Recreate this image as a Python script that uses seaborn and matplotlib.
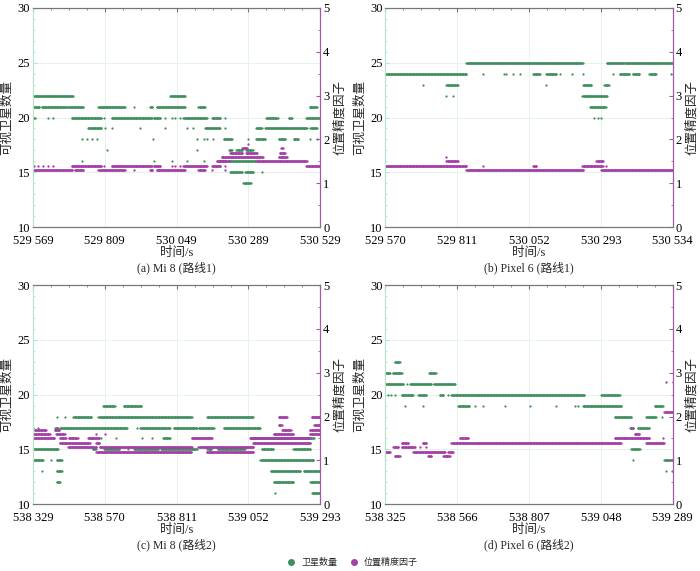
import numpy as np
import pandas as pd
import matplotlib
matplotlib.use("Agg")
import matplotlib.pyplot as plt
from matplotlib.lines import Line2D
from matplotlib.ticker import FuncFormatter, MultipleLocator, AutoMinorLocator
import seaborn as sns

# runs: (start offset s, end offset s, value)
# satellite counts (left axis) and PDOP (right axis), one list per panel
sat_runs_a = [
    (3, 133, 22), (458, 508, 22),
    (0, 23, 21), (29, 113, 21), (118, 168, 21), (219, 308, 21), (338, 338, 21), (391, 400, 21),
    (414, 508, 21), (553, 575, 21), (924, 949, 21),
    (0, 7, 20), (51, 51, 20), (68, 68, 20), (129, 230, 20), (238, 238, 20), (263, 397, 20),
    (403, 425, 20), (441, 441, 20), (464, 464, 20), (475, 475, 20), (490, 490, 20), (503, 581, 20),
    (598, 626, 20), (642, 642, 20), (779, 817, 20), (855, 865, 20), (913, 960, 20),
    (185, 230, 19), (241, 241, 19), (263, 263, 19), (358, 358, 19), (441, 441, 19), (514, 514, 19),
    (536, 536, 19), (575, 626, 19), (642, 642, 19), (746, 765, 19), (776, 915, 19), (927, 949, 19),
    (163, 163, 18), (180, 180, 18), (196, 196, 18), (213, 213, 18), (400, 400, 18), (547, 547, 18),
    (570, 570, 18), (581, 581, 18), (601, 601, 18), (637, 665, 18), (717, 717, 18), (746, 776, 18),
    (821, 843, 18), (871, 888, 18), (927, 927, 18), (949, 949, 18),
    (246, 246, 17), (547, 547, 17), (655, 665, 17), (680, 700, 17), (712, 735, 17),
    (163, 163, 16), (403, 403, 16), (465, 465, 16), (515, 515, 16), (570, 570, 16), (620, 640, 16),
    (657, 748, 16),
    (659, 700, 15), (710, 737, 15), (765, 765, 15),
    (703, 728, 14),
]
pdop_runs_a = [
    (0, 133, 1.3), (140, 168, 1.3), (219, 308, 1.3), (338, 338, 1.3), (391, 400, 1.3),
    (414, 508, 1.3), (553, 575, 1.3), (598, 598, 1.3), (642, 642, 1.3),
    (3, 3, 1.4), (17, 17, 1.4), (34, 34, 1.4), (51, 51, 1.4), (68, 68, 1.4), (129, 230, 1.4),
    (238, 238, 1.4), (263, 397, 1.4), (403, 425, 1.4), (464, 464, 1.4), (475, 475, 1.4),
    (490, 490, 1.4), (503, 581, 1.4), (598, 626, 1.4), (642, 642, 1.4), (913, 960, 1.4),
    (614, 657, 1.5), (748, 915, 1.5),
    (630, 768, 1.6), (821, 849, 1.6),
    (658, 700, 1.7), (712, 748, 1.7), (824, 843, 1.7),
    (700, 715, 1.8), (830, 835, 1.8),
    (717, 717, 1.9),
]

sat_runs_b = [
    (272, 663, 25), (743, 797, 25), (802, 964, 25),
    (0, 272, 24), (328, 328, 24), (397, 397, 24), (406, 406, 24), (429, 429, 24), (451, 451, 24),
    (496, 518, 24), (540, 574, 24), (585, 585, 24), (626, 626, 24), (663, 663, 24), (763, 763, 24),
    (786, 819, 24), (830, 853, 24), (886, 908, 24), (958, 958, 24),
    (127, 127, 23), (205, 244, 23), (540, 540, 23), (663, 691, 23), (735, 750, 23),
    (205, 205, 22), (228, 228, 22), (661, 743, 22),
    (687, 739, 21),
    (699, 699, 20), (712, 712, 20), (725, 725, 20),
]
pdop_runs_b = [
    (205, 205, 1.6),
    (205, 244, 1.5), (708, 730, 1.5),
    (0, 272, 1.4), (328, 328, 1.4), (496, 507, 1.4), (661, 730, 1.4), (739, 739, 1.4),
    (272, 665, 1.3), (724, 964, 1.3),
]

sat_runs_c = [
    (236, 275, 19), (304, 365, 19),
    (80, 80, 18), (108, 108, 18), (136, 197, 18), (220, 533, 18), (584, 738, 18),
    (2, 2, 17), (17, 17, 17), (74, 85, 17), (91, 315, 17), (349, 349, 17), (360, 460, 17),
    (472, 550, 17), (556, 606, 17), (640, 763, 17),
    (195, 195, 16), (230, 230, 16), (280, 280, 16), (365, 365, 16), (400, 400, 16),
    (437, 460, 16), (730, 942, 16),
    (0, 85, 15), (200, 210, 15), (240, 290, 15), (320, 320, 15), (340, 420, 15), (430, 550, 15),
    (585, 600, 15), (620, 710, 15), (768, 807, 15), (874, 930, 15),
    (0, 35, 14), (60, 60, 14), (80, 96, 14), (763, 942, 14),
    (29, 29, 13), (80, 96, 13), (797, 897, 13), (908, 964, 13),
    (80, 90, 12), (808, 875, 12), (931, 964, 12),
    (813, 813, 11), (936, 964, 11),
]
pdop_runs_c = [
    (824, 852, 2.0), (935, 964, 2.0),
    (824, 835, 1.8), (943, 964, 1.8),
    (6, 45, 1.7), (73, 90, 1.7), (836, 864, 1.7), (929, 964, 1.7),
    (0, 56, 1.6), (78, 106, 1.6), (213, 213, 1.6), (241, 241, 1.6), (807, 874, 1.6), (929, 964, 1.6),
    (0, 73, 1.5), (90, 110, 1.5), (120, 150, 1.5), (185, 224, 1.5), (532, 600, 1.5), (729, 930, 1.5),
    (90, 190, 1.4), (213, 224, 1.4), (738, 930, 1.4),
    (118, 213, 1.3), (224, 532, 1.3), (555, 740, 1.3),
    (213, 532, 1.2), (583, 740, 1.2),
]

sat_runs_d = [
    (32, 49, 23),
    (0, 16, 22), (25, 55, 22), (147, 170, 22),
    (0, 60, 21), (74, 74, 21), (83, 155, 21), (163, 233, 21),
    (10, 10, 20), (20, 20, 20), (32, 32, 20), (55, 94, 20), (111, 138, 20), (183, 195, 20),
    (211, 211, 20), (222, 668, 20), (724, 786, 20),
    (66, 66, 19), (127, 127, 19), (244, 283, 19), (300, 300, 19), (328, 328, 19), (401, 401, 19),
    (485, 485, 19), (574, 574, 19), (636, 636, 19), (647, 647, 19), (663, 791, 19), (903, 931, 19),
    (769, 825, 18), (875, 908, 18), (929, 929, 18),
    (821, 832, 17), (847, 886, 17),
    (825, 853, 15),
    (830, 830, 14), (936, 964, 14),
    (940, 940, 13), (962, 962, 13),
]
pdop_runs_d = [
    (940, 940, 2.8), (964, 964, 2.8),
    (936, 964, 2.1),
    (825, 825, 1.75), (830, 830, 1.75),
    (836, 853, 1.6),
    (250, 278, 1.5), (769, 886, 1.5), (931, 931, 1.5),
    (55, 77, 1.4), (125, 138, 1.4), (222, 791, 1.4), (875, 936, 1.4),
    (27, 43, 1.3), (55, 99, 1.3), (116, 116, 1.3), (138, 138, 1.3),
    (0, 16, 1.2), (94, 200, 1.2), (211, 228, 1.2),
    (32, 49, 1.1), (144, 155, 1.1), (194, 216, 1.1),
]

start_times = [529569, 529570, 538329, 538325]
xticks_a = [529569, 529809, 530049, 530289, 530529]
xticks_b = [529570, 529811, 530052, 530293, 530534]
xticks_c = [538329, 538570, 538811, 539052, 539293]
xticks_d = [538325, 538566, 538807, 539048, 539289]
captions = ["(a) Mi 8 (路线1)", "(b) Pixel 6 (路线1)", "(c) Mi 8 (路线2)", "(d) Pixel 6 (路线2)"]
legend_labels = ["卫星数量", "位置精度因子"]

GREEN = "#3f8f5c"
PURPLE = "#a33fa6"
PALE = "#b9e2cb"


def runs_to_df(runs, t0):
    # one sample every 2 s along each run
    rows = []
    for s, e, v in runs:
        for t in np.arange(s, e + 1, 2):
            rows.append((t0 + t, v))
    return pd.DataFrame(rows, columns=["time", "value"])


sns.set_style("white")
plt.rcParams["font.family"] = ["Liberation Serif", "Noto Sans CJK SC"]
plt.rcParams["font.size"] = 9

fig, axes = plt.subplots(2, 2, figsize=(7, 5.71), dpi=100)
fig.subplots_adjust(left=0.047, right=0.961, top=0.986, bottom=0.117, wspace=0.226, hspace=0.265)

panels = [
    (sat_runs_a, pdop_runs_a, xticks_a),
    (sat_runs_b, pdop_runs_b, xticks_b),
    (sat_runs_c, pdop_runs_c, xticks_c),
    (sat_runs_d, pdop_runs_d, xticks_d),
]
fmt = FuncFormatter(lambda v, p: f"{int(round(v)):,}".replace(",", " "))

for ax, (sat_runs, pdop_runs, xt), t0, cap in zip(axes.flat, panels, start_times, captions):
    ax2 = ax.twinx()
    sat_df = runs_to_df(sat_runs, t0)
    pdop_df = runs_to_df(pdop_runs, t0)
    sns.scatterplot(data=sat_df, x="time", y="value", color=GREEN, s=2.6, linewidth=0,
                    marker="o", legend=False, ax=ax)
    sns.scatterplot(data=pdop_df, x="time", y="value", color=PURPLE, s=2.8, linewidth=0,
                    marker="o", legend=False, ax=ax2)

    ax.set_xlim(xt[0], xt[-1])
    ax.set_ylim(10, 30)
    ax2.set_ylim(0, 5)
    ax.set_xticks(xt)
    ax.xaxis.set_major_formatter(fmt)
    ax.xaxis.set_minor_locator(AutoMinorLocator(4))
    ax.yaxis.set_major_locator(MultipleLocator(5))
    ax.yaxis.set_minor_locator(MultipleLocator(1))
    ax2.yaxis.set_major_locator(MultipleLocator(1))
    ax2.yaxis.set_minor_locator(MultipleLocator(0.5))

    ax.grid(True, which="major", color="#e6f2ea", lw=0.7)
    ax.set_axisbelow(True)

    ax.set_xlabel("时间/s", labelpad=0)
    ax.set_ylabel("可视卫星数量", labelpad=3)
    ax2.set_ylabel("位置精度因子", labelpad=3)
    ax.text(0.5, -0.188, cap, transform=ax.transAxes, ha="center", va="center", fontsize=8.5)

    for a in (ax, ax2):
        a.spines["left"].set_color(PALE)
        a.spines["right"].set_color("#a35aa6")
        a.spines["top"].set_color("#777777")
        a.spines["bottom"].set_color("#777777")
        for s in a.spines.values():
            s.set_linewidth(0.8)
    ax.tick_params(axis="x", which="both", direction="in", top=True, colors="#777777",
                   labelcolor="black", labelsize=9, pad=5.5)
    ax.tick_params(axis="x", which="major", length=3)
    ax.tick_params(axis="x", which="minor", length=1.5)
    ax.tick_params(axis="y", which="both", direction="in", colors=PALE, labelcolor="black",
                   labelsize=9, pad=2)
    ax.tick_params(axis="y", which="major", length=3)
    ax.tick_params(axis="y", which="minor", length=1.5)
    ax2.tick_params(axis="y", which="both", direction="in", colors="#a35aa6", labelcolor="black",
                    labelsize=9, pad=2)
    ax2.tick_params(axis="y", which="major", length=3)
    ax2.tick_params(axis="y", which="minor", length=1.5)

handles = [
    Line2D([], [], marker="o", ls="", color=GREEN, markersize=4),
    Line2D([], [], marker="o", ls="", color=PURPLE, markersize=4),
]
fig.legend(handles, legend_labels, loc="lower center", bbox_to_anchor=(0.5, -0.008), ncol=2,
           frameon=False, fontsize=6.5, handletextpad=0.1, columnspacing=0.8)

fig.savefig("out.png", dpi=100)
